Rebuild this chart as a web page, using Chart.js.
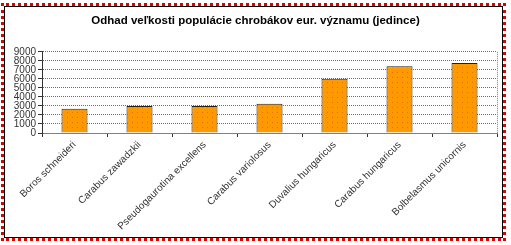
<!DOCTYPE html>
<html>
<head>
    <title>Odhad veľkosti populácie chrobákov</title>
    <script src="https://cdn.jsdelivr.net/npm/chart.js"></script>
    <style>
        body { margin: 0; background: #fff; }
        .wrap { position: relative; width: 511px; height: 245px; }
        .frame {
            position: absolute; left: 1px; top: 3px; width: 505px; height: 238px;
            box-sizing: border-box; border: 3px dotted #e00000;
            box-shadow: inset 0 0 0 1px #000; pointer-events: none;
        }
    </style>
</head>
<body>
    <div class="wrap">
        <canvas id="popChart" width="511" height="245"></canvas>
        <div class="frame"></div>
    </div>

    <script>
        const species = [
            'Boros schneideri',
            'Carabus zawadzkii',
            'Pseudogaurotina excellens',
            'Carabus variolosus',
            'Duvalius hungaricus',
            'Carabus hungaricus',
            'Bolbelasmus unicornis'
        ];
        const individuals = [2700, 3000, 3000, 3250, 6000, 7400, 7750];
        const yMax = 9000;
        const yStep = 1000;

        // dotted orange fill like the original
        function dotPattern() {
            const c = document.createElement('canvas');
            c.width = 5; c.height = 5;
            const g = c.getContext('2d');
            g.fillStyle = '#ff9900';
            g.fillRect(0, 0, 5, 5);
            g.fillStyle = '#f06a1a';
            g.fillRect(2, 2, 1, 1);
            return g.createPattern(c, 'repeat');
        }

        const plotFrame = {
            id: 'plotFrame',
            afterDraw(chart) {
                const a = chart.chartArea, ctx = chart.ctx;
                ctx.save();
                ctx.strokeStyle = '#808080';
                ctx.setLineDash([1, 1]);
                ctx.beginPath();
                ctx.moveTo(a.right + 0.5, a.top);
                ctx.lineTo(a.right + 0.5, a.bottom);
                ctx.stroke();
                ctx.restore();
            }
        };

        const ctx = document.getElementById('popChart').getContext('2d');
        new Chart(ctx, {
            type: 'bar',
            data: {
                labels: species,
                datasets: [{
                    data: individuals,
                    backgroundColor: dotPattern(),
                    borderColor: '#2a1e10',
                    borderWidth: 1,
                    barPercentage: 0.4,
                    categoryPercentage: 1
                }]
            },
            options: {
                responsive: false,
                animation: false,
                layout: { padding: { left: 14, right: 14, top: 0, bottom: 0 } },
                plugins: {
                    legend: { display: false },
                    tooltip: { enabled: false },
                    title: {
                        display: true,
                        text: 'Odhad veľkosti populácie chrobákov eur. významu (jedince)',
                        color: '#000',
                        font: { family: 'Arial', size: 11.5, weight: 'bold' },
                        padding: { top: 14, bottom: 24 }
                    }
                },
                scales: {
                    x: {
                        afterFit(scale) { scale.height = 112; },
                        grid: {
                            drawOnChartArea: false,
                            offset: true,
                            tickLength: 4,
                            color: '#333'
                        },
                        border: { color: '#808080' },
                        ticks: {
                            autoSkip: false,
                            minRotation: 45,
                            maxRotation: 45,
                            padding: 2,
                            color: '#333',
                            font: { family: 'Arial', size: 10 }
                        }
                    },
                    y: {
                        min: 0,
                        max: yMax,
                        afterFit(scale) { scale.width = 28; },
                        grid: {
                            color: '#6e6e6e',
                            tickColor: '#333',
                            tickLength: 4
                        },
                        border: { color: '#333', dash: [1, 1] },
                        ticks: {
                            stepSize: yStep,
                            autoSkip: false,
                            padding: 2,
                            color: '#333',
                            font: { family: 'Arial', size: 10, lineHeight: 0.8 },
                            callback: v => String(v)
                        }
                    }
                }
            },
            plugins: [plotFrame]
        });
    </script>
</body>
</html>
